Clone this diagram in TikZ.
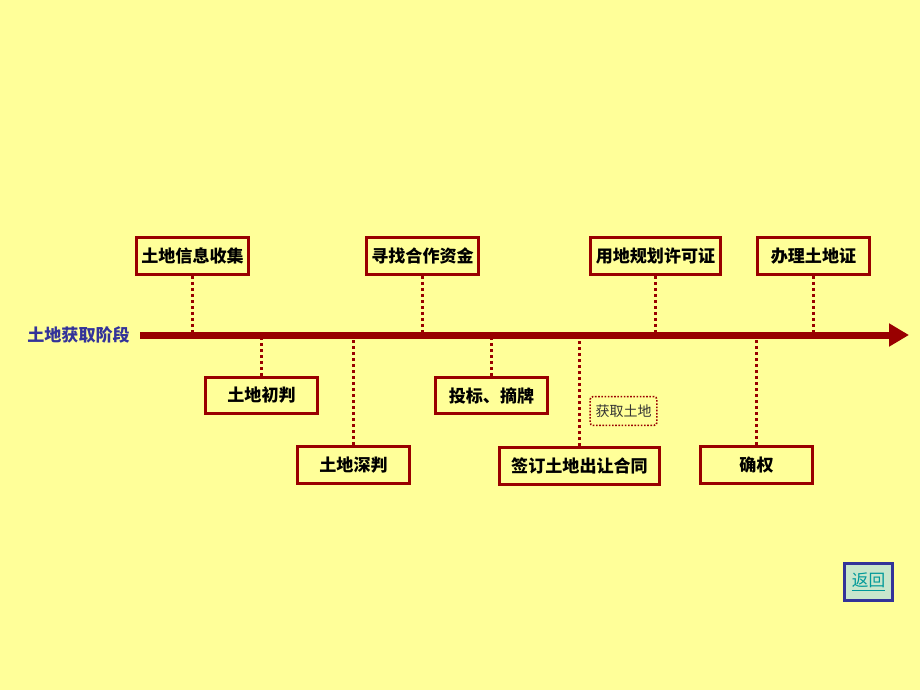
\documentclass[tikz,border=0pt]{standalone}
\usepackage{fontspec}
\newfontfamily\cjk{Noto Sans CJK SC}
\usetikzlibrary{arrows.meta}

\definecolor{bgyellow}{HTML}{FFFF99}
\definecolor{darkred}{HTML}{990000}
\definecolor{stageblue}{HTML}{333399}
\definecolor{backfill}{HTML}{C8E6CC}
\definecolor{linkteal}{HTML}{009999}

\tikzset{
  stepbox/.style={draw=darkred, line width=2.25pt, fill=bgyellow,
    minimum height=27.5pt, inner sep=2pt,
    font=\cjk\bfseries\fontsize{12.8}{14}\selectfont},
  link/.style={draw=darkred, line width=2.2pt, dash pattern=on 2.2pt off 2.3pt},
}

\begin{document}
\begin{tikzpicture}[x=0.75pt,y=-0.75pt]
    \fill[bgyellow] (0,0) rectangle (920,690);
    \useasboundingbox (0,0) rectangle (920,690);

    % ends of the time axis
    \coordinate (start) at (140,335);
    \coordinate (end) at (909,335);

    \node[text=stageblue, font=\cjk\bfseries\fontsize{12.8}{14}\selectfont,
      anchor=east, inner sep=0pt] (stage) at (130,335) {土地获取阶段};

    \foreach \name/\x/\w/\txt in {collect/192.5/112/土地信息收集,
      fund/422.5/112/寻找合作资金, permit/655.5/130/用地规划许可证,
      cert/813.5/112/办理土地证}{% steps above the axis
        \node[stepbox, minimum width=\w*0.75pt] (\name) at (\x,256) {\txt};
        \draw[link] (\name.south) -- (\name.south |- start);
    }

    \foreach \name/\x/\y/\w/\txt in {judgeA/261.5/395.5/112/土地初判,
      judgeB/353.5/465/112/土地深判, bid/491.5/395.5/112/投标、摘牌,
      contract/579.5/466/160/签订土地出让合同, confirm/756.5/465/112/确权}{% steps below the axis
        \node[stepbox, minimum width=\w*0.75pt] (\name) at (\x,\y) {\txt};
        \draw[link] (\name.north) -- (\name.north |- start);
    }

    % the time axis, drawn over the connectors
    \draw[darkred, line width=5.25pt, -{Triangle[length=15pt,width=16.5pt]}] (start) -- (end);

    \node[draw=darkred, line width=1.2pt, dash pattern=on 1.2pt off 1.2pt,
      rounded corners=2pt, minimum width=50pt, minimum height=21.5pt, inner sep=1pt,
      font=\cjk\fontsize{10.5}{12}\selectfont, text=black!80] (gain) at (623.5,411) {获取土地};

    \node[draw=stageblue, fill=backfill, line width=2.25pt, minimum width=36pt,
      minimum height=28pt, inner sep=1pt, text=linkteal,
      font=\cjk\fontsize{12.5}{14}\selectfont] (back) at (868.5,582) {\underline{返回}};
\end{tikzpicture}
\end{document}
